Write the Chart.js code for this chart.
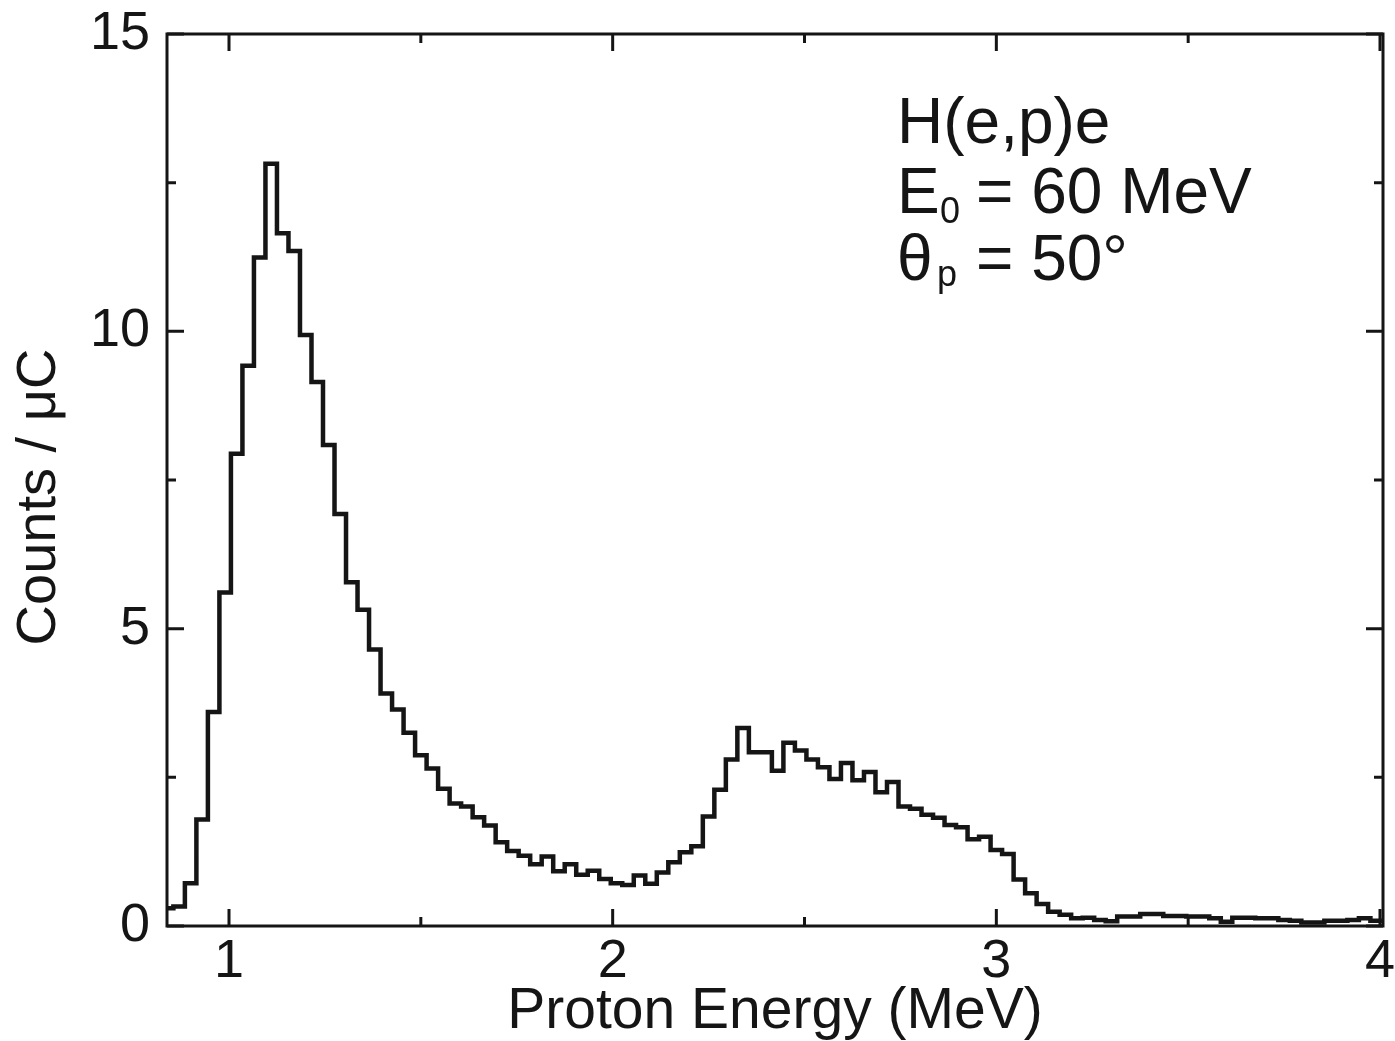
<!DOCTYPE html>
<html>
<head>
<meta charset="utf-8">
<title>H(e,p)e proton spectrum</title>
<script src="https://cdn.jsdelivr.net/npm/chart.js@4.4.0/dist/chart.umd.min.js"></script>
<style>
  html, body { margin: 0; padding: 0; background: #fff; }
  canvas { display: block; }
</style>
</head>
<body>
<canvas id="spectrum" width="1395" height="1041"></canvas>
<script>
// bin centres (MeV), 0.03 MeV wide bins
const binCenters = [
  0.84, 0.87, 0.90, 0.93, 0.96, 0.99, 1.02, 1.05, 1.08, 1.11,
  1.14, 1.17, 1.20, 1.23, 1.26, 1.29, 1.32, 1.35, 1.38, 1.41,
  1.44, 1.47, 1.50, 1.53, 1.56, 1.59, 1.62, 1.65, 1.68, 1.71,
  1.74, 1.77, 1.80, 1.83, 1.86, 1.89, 1.92, 1.95, 1.98, 2.01,
  2.04, 2.07, 2.10, 2.13, 2.16, 2.19, 2.22, 2.25, 2.28, 2.31,
  2.34, 2.37, 2.40, 2.43, 2.46, 2.49, 2.52, 2.55, 2.58, 2.61,
  2.64, 2.67, 2.70, 2.73, 2.76, 2.79, 2.82, 2.85, 2.88, 2.91,
  2.94, 2.97, 3.00, 3.03, 3.06, 3.09, 3.12, 3.15, 3.18, 3.21,
  3.24, 3.27, 3.30, 3.33, 3.36, 3.39, 3.42, 3.45, 3.48, 3.51,
  3.54, 3.57, 3.60, 3.63, 3.66, 3.69, 3.72, 3.75, 3.78, 3.81,
  3.84, 3.87, 3.90, 3.93, 3.96, 3.99
];

// counts per microcoulomb in each bin
const countsPerUC = [
  0.30, 0.33, 0.72, 1.79, 3.60, 5.61, 7.94, 9.42, 11.24, 12.82,
  11.65, 11.35, 9.94, 9.15, 8.09, 6.93, 5.78, 5.32, 4.65, 3.91,
  3.64, 3.25, 2.87, 2.65, 2.31, 2.06, 2.01, 1.83, 1.69, 1.41,
  1.26, 1.18, 1.04, 1.17, 0.92, 1.04, 0.86, 0.93, 0.79, 0.72,
  0.69, 0.85, 0.71, 0.90, 1.07, 1.24, 1.34, 1.84, 2.29, 2.80,
  3.33, 2.92, 2.92, 2.61, 3.08, 2.95, 2.80, 2.67, 2.47, 2.74,
  2.45, 2.59, 2.25, 2.42, 2.01, 1.97, 1.87, 1.82, 1.70, 1.66,
  1.46, 1.50, 1.28, 1.21, 0.78, 0.55, 0.37, 0.24, 0.19, 0.13,
  0.14, 0.10, 0.08, 0.16, 0.16, 0.20, 0.20, 0.17, 0.17, 0.16,
  0.16, 0.13, 0.07, 0.14, 0.14, 0.13, 0.13, 0.10, 0.09, 0.06,
  0.06, 0.09, 0.09, 0.10, 0.13, 0.09
];

const BIN_WIDTH = 0.03;

const xMajorTicks = [1, 2, 3, 4];
const xMinorTicks = [1.5, 2.5, 3.5];
const yMajorTicks = [0, 5, 10, 15];
const yMinorTicks = [2.5, 7.5, 12.5];

const FONT = '"Liberation Sans", Arial, Helvetica, sans-serif';
const INK = '#151515';

// step outline: points at bin centres plus the outer edges of the first and last bin
const last = binCenters.length - 1;
const stepPoints = [{ x: binCenters[0] - BIN_WIDTH / 2, y: countsPerUC[0] }]
  .concat(binCenters.map((e, i) => ({ x: e, y: countsPerUC[i] })))
  .concat([{ x: binCenters[last] + BIN_WIDTH / 2, y: countsPerUC[last] }]);

// box around the plot with inward ticks on all four sides
const frameTicks = {
  id: 'frameTicks',
  afterDraw(chart) {
    const { ctx, chartArea: a, scales: { x, y } } = chart;
    const major = 17, minor = 9;
    ctx.save();
    ctx.strokeStyle = INK;
    ctx.lineWidth = 3;
    ctx.lineCap = 'butt';
    ctx.strokeRect(a.left, a.top, a.right - a.left, a.bottom - a.top);
    ctx.beginPath();
    const vTick = (v, len) => {
      const px = x.getPixelForValue(v);
      ctx.moveTo(px, a.bottom); ctx.lineTo(px, a.bottom - len);
      ctx.moveTo(px, a.top); ctx.lineTo(px, a.top + len);
    };
    const hTick = (v, len) => {
      const py = y.getPixelForValue(v);
      ctx.moveTo(a.left, py); ctx.lineTo(a.left + len, py);
      ctx.moveTo(a.right, py); ctx.lineTo(a.right - len, py);
    };
    xMajorTicks.forEach(v => vTick(v, major));
    xMinorTicks.forEach(v => vTick(v, minor));
    yMajorTicks.forEach(v => hTick(v, major));
    yMinorTicks.forEach(v => hTick(v, minor));
    ctx.stroke();
    ctx.restore();
  }
};

// y-axis title and the reaction / kinematics note
const textLayer = {
  id: 'textLayer',
  afterDraw(chart) {
    const { ctx, chartArea: a } = chart;
    ctx.save();
    ctx.fillStyle = INK;

    ctx.save();
    ctx.translate(40, 497);
    ctx.rotate(-Math.PI / 2);
    ctx.textAlign = 'center';
    ctx.textBaseline = 'middle';
    ctx.font = '56px ' + FONT;
    ctx.fillText('Counts / μC', 0, 0);
    ctx.restore();

    const x0 = 897, x1 = 976;
    ctx.textAlign = 'left';
    ctx.textBaseline = 'alphabetic';
    ctx.font = '64px ' + FONT;
    ctx.fillText('H(e,p)e', x0, a.top + 109);
    ctx.fillText('E', x0, a.top + 179);
    ctx.fillText('= 60 MeV', x1, a.top + 179);
    ctx.fillText('θ', x0, a.top + 246);
    ctx.fillText('= 50°', x1, a.top + 246);
    ctx.font = '36px ' + FONT;
    ctx.fillText('0', 940, a.top + 189);
    ctx.fillText('p', 937, a.top + 252);
    ctx.restore();
  }
};

const ctx = document.getElementById('spectrum').getContext('2d');
new Chart(ctx, {
  type: 'line',
  data: {
    datasets: [{
      data: stepPoints,
      stepped: 'middle',
      borderColor: INK,
      borderWidth: 4.5,
      pointRadius: 0,
      fill: false
    }]
  },
  options: {
    responsive: false,
    animation: false,
    devicePixelRatio: 1,
    layout: { padding: { top: 34, right: 12, bottom: 0, left: 0 } },
    plugins: { legend: { display: false }, tooltip: { enabled: false } },
    scales: {
      x: {
        type: 'linear',
        min: 0.8384,
        max: 4.0078,
        grid: { display: false, drawTicks: false },
        border: { display: false },
        afterBuildTicks: s => { s.ticks = xMajorTicks.map(v => ({ value: v })); },
        afterFit: s => { s.height = 115; s.paddingLeft = 0; s.paddingRight = 0; },
        ticks: {
          color: INK,
          font: { size: 54, family: FONT },
          padding: 4,
          maxRotation: 0,
          autoSkip: false,
          callback: v => String(v)
        },
        title: {
          display: true,
          text: 'Proton Energy (MeV)',
          color: INK,
          font: { size: 57, family: FONT, lineHeight: 1 },
          padding: { top: 0, bottom: 0 }
        }
      },
      y: {
        min: 0,
        max: 15,
        grid: { display: false, drawTicks: false },
        border: { display: false },
        afterBuildTicks: s => { s.ticks = yMajorTicks.map(v => ({ value: v })); },
        afterFit: s => { s.width = 167; s.paddingTop = 0; s.paddingBottom = 0; },
        ticks: {
          color: INK,
          font: { size: 54, family: FONT },
          padding: 17,
          callback: v => String(v)
        }
      }
    }
  },
  plugins: [frameTicks, textLayer]
});
</script>
</body>
</html>
